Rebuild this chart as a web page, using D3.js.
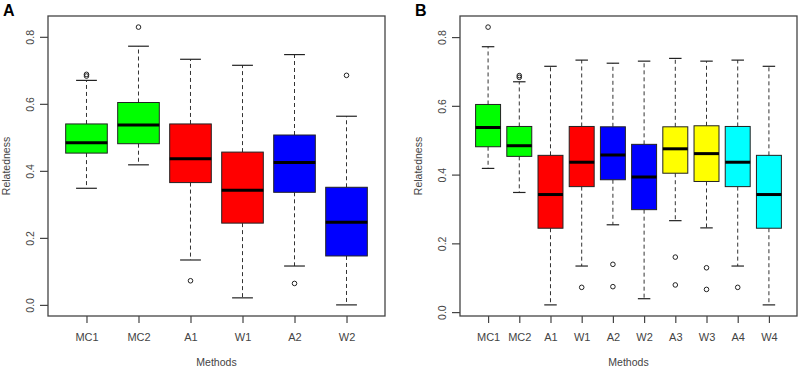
<!DOCTYPE html>
<html>
<head>
<meta charset="utf-8">
<script src="https://cdn.jsdelivr.net/npm/d3@7/dist/d3.min.js"></script>
<style>
body { margin: 0; background: #fff; }
svg text { font-family: "Liberation Sans", Arial, sans-serif; fill: #3a3a3a; }
</style>
</head>
<body>
<div id="chart"></div>
<script>
/*-------------------- Données -------------------*/

// panel A
var methodsA = ["MC1", "MC2", "A1", "W1", "A2", "W2"];
var colorsA = ["#00ff00", "#00ff00", "#ff0000", "#ff0000", "#0000ff", "#0000ff"];
// [moustache basse, Q1, médiane, Q3, moustache haute]
var statsA = [
    [0.348, 0.453, 0.484, 0.540, 0.670],
    [0.418, 0.481, 0.537, 0.604, 0.772],
    [0.134, 0.365, 0.436, 0.540, 0.733],
    [0.021, 0.244, 0.342, 0.456, 0.715],
    [0.116, 0.336, 0.425, 0.507, 0.747],
    [0.000, 0.146, 0.247, 0.351, 0.563]
];
var outliersA = [[0.683, 0.688], [0.829], [0.072], [], [0.064], [0.685]];

// panel B
var methodsB = ["MC1", "MC2", "A1", "W1", "A2", "W2", "A3", "W3", "A4", "W4"];
var colorsB = ["#00ff00", "#00ff00", "#ff0000", "#ff0000", "#0000ff", "#0000ff",
               "#ffff00", "#ffff00", "#00ffff", "#00ffff"];
var statsB = [
    [0.418, 0.481, 0.537, 0.604, 0.772],
    [0.348, 0.453, 0.484, 0.540, 0.670],
    [0.021, 0.244, 0.342, 0.456, 0.715],
    [0.134, 0.365, 0.436, 0.540, 0.733],
    [0.254, 0.385, 0.457, 0.539, 0.724],
    [0.039, 0.298, 0.393, 0.488, 0.730],
    [0.266, 0.404, 0.475, 0.539, 0.738],
    [0.245, 0.380, 0.461, 0.542, 0.730],
    [0.134, 0.365, 0.436, 0.540, 0.733],
    [0.021, 0.244, 0.342, 0.456, 0.715]
];
var outliersB = [[0.829], [0.683, 0.688], [], [0.072], [0.139, 0.074], [],
                 [0.160, 0.079], [0.129, 0.066], [0.072], []];

var yTicks = [0, 0.2, 0.4, 0.6, 0.8];

/*-------------------- Dessin -------------------*/

var svg = d3.select("#chart").append("svg")
    .attr("width", 799)
    .attr("height", 367);

function drawPanel(letter, names, colors, stats, outliers, left, right) {
    var top = 16, bottom = 316;
    var n = names.length;
    var g = svg.append("g");

    // R étend les limites de 4%
    var allValues = d3.merge(stats).concat(d3.merge(outliers));
    var vmin = d3.min(allValues), vmax = d3.max(allValues);
    var pad = (vmax - vmin) * 0.04;

    var xScale = d3.scaleLinear()
        .domain([0.5 - 0.04 * n, n + 0.5 + 0.04 * n])
        .range([left, right]);
    var yScale = d3.scaleLinear()
        .domain([vmin - pad, vmax + pad])
        .range([bottom, top]);

    var bw = (xScale(1.8) - xScale(1)) / 2;

    var boxes = g.selectAll("g.box")
        .data(stats)
        .enter()
        .append("g")
        .attr("class", "box");

    // moustaches en pointillés
    boxes.append("line")
        .attr("x1", (d, i) => xScale(i + 1))
        .attr("x2", (d, i) => xScale(i + 1))
        .attr("y1", d => yScale(d[3]))
        .attr("y2", d => yScale(d[4]))
        .style("stroke", "#333")
        .style("stroke-dasharray", "4,3");
    boxes.append("line")
        .attr("x1", (d, i) => xScale(i + 1))
        .attr("x2", (d, i) => xScale(i + 1))
        .attr("y1", d => yScale(d[1]))
        .attr("y2", d => yScale(d[0]))
        .style("stroke", "#333")
        .style("stroke-dasharray", "4,3");

    // traits aux extrémités
    [0, 4].forEach(function(k) {
        boxes.append("line")
            .attr("x1", (d, i) => xScale(i + 1) - bw / 2)
            .attr("x2", (d, i) => xScale(i + 1) + bw / 2)
            .attr("y1", d => yScale(d[k]))
            .attr("y2", d => yScale(d[k]))
            .style("stroke", "#222")
            .style("stroke-width", 1.2);
    });

    boxes.append("rect")
        .attr("x", (d, i) => xScale(i + 1) - bw)
        .attr("y", d => yScale(d[3]))
        .attr("width", bw * 2)
        .attr("height", d => yScale(d[1]) - yScale(d[3]))
        .style("fill", (d, i) => colors[i])
        .style("stroke", "#222")
        .style("stroke-width", 1);

    boxes.append("line")
        .attr("x1", (d, i) => xScale(i + 1) - bw)
        .attr("x2", (d, i) => xScale(i + 1) + bw)
        .attr("y1", d => yScale(d[2]))
        .attr("y2", d => yScale(d[2]))
        .style("stroke", "#000")
        .style("stroke-width", 3);

    // valeurs aberrantes
    outliers.forEach(function(pts, i) {
        g.selectAll(null)
            .data(pts)
            .enter()
            .append("circle")
            .attr("cx", xScale(i + 1))
            .attr("cy", d => yScale(d))
            .attr("r", 2.3)
            .style("fill", "none")
            .style("stroke", "#222")
            .style("stroke-width", 1);
    });

    // cadre
    g.append("rect")
        .attr("x", left)
        .attr("y", top)
        .attr("width", right - left)
        .attr("height", bottom - top)
        .style("fill", "none")
        .style("stroke", "#444")
        .style("stroke-width", 1.3);

    var yAxis = g.append("g")
        .attr("transform", "translate(" + left + ",0)")
        .call(d3.axisLeft(yScale).tickValues(yTicks).tickFormat(d3.format(".1f")).tickSize(8).tickPadding(0));
    yAxis.select(".domain").remove();
    yAxis.selectAll("line").style("stroke", "#444").style("stroke-width", 1.2);
    yAxis.selectAll("text")
        .attr("x", null).attr("dy", null)
        .attr("transform", "translate(-14,0) rotate(-90)")
        .style("text-anchor", "middle")
        .style("font-size", "10.5px")
        .style("fill", "#444");

    var xAxis = g.append("g")
        .attr("transform", "translate(0," + bottom + ")")
        .call(d3.axisBottom(xScale).tickValues(d3.range(1, n + 1)).tickFormat((d, i) => names[i]).tickSize(7).tickPadding(0));
    xAxis.select(".domain").remove();
    xAxis.selectAll("line").style("stroke", "#444").style("stroke-width", 1.2);
    xAxis.selectAll("text")
        .attr("y", 25).attr("dy", null)
        .style("font-size", "11px")
        .style("fill", "#444");

    g.append("text")
        .attr("x", (left + right) / 2)
        .attr("y", 365.5)
        .style("text-anchor", "middle")
        .style("font-size", "10.5px")
        .style("fill", "#444")
        .text("Methods");

    g.append("text")
        .attr("transform", "translate(" + (left - 38) + "," + ((top + bottom) / 2) + ") rotate(-90)")
        .style("text-anchor", "middle")
        .style("font-size", "10.5px")
        .style("fill", "#444")
        .text("Relatedness");

    g.append("text")
        .attr("x", left - 45)
        .attr("y", 15.5)
        .style("font-size", "16px")
        .style("font-weight", "bold")
        .style("fill", "#000")
        .text(letter);
}

drawPanel("A", methodsA, colorsA, statsA, outliersA, 48, 385);
drawPanel("B", methodsB, colorsB, statsB, outliersB, 460, 797);
</script>
</body>
</html>
